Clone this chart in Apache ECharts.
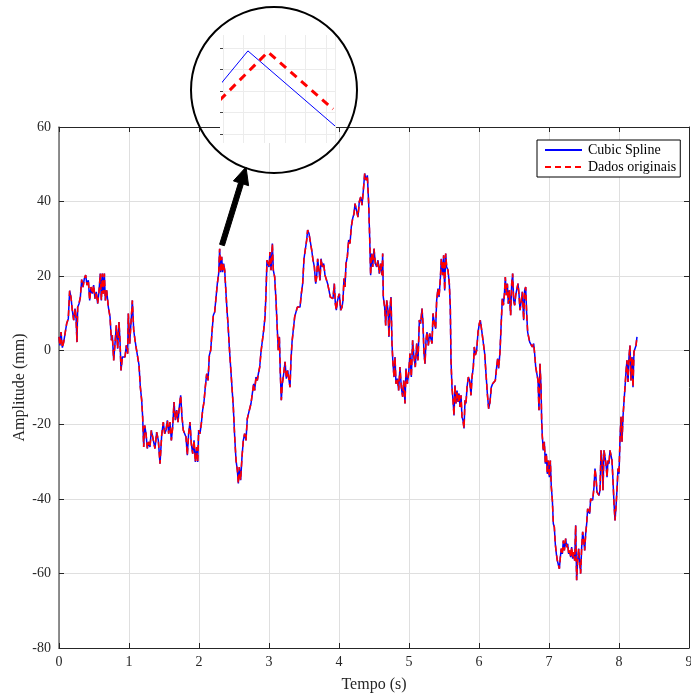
<!DOCTYPE html>
<html>
<head>
<meta charset="utf-8">
<script src="https://cdn.jsdelivr.net/npm/echarts@6/dist/echarts.min.js"></script>
<style>
html,body{margin:0;padding:0;background:#fff;}
#chart{width:691px;height:694px;}
</style>
</head>
<body>
<div id="chart"></div>
<script>
// ---- Data (tempo em s, amplitude em mm) ----
const legendNames = ['Cubic Spline', 'Dados originais'];
const xTicks = [0, 1, 2, 3, 4, 5, 6, 7, 8, 9];
const yTicks = [-80, -60, -40, -20, 0, 20, 40, 60];

const amostras = [
 [0,3.6],[0.014,1.3],[0.029,4.9],[0.048,0.7],[0.067,2.2],[0.086,2.7],[0.110,7.2],[0.133,8.5],[0.152,16],[0.171,14.3],
 [0.190,10.8],[0.210,8.1],[0.229,11.2],[0.243,9],[0.257,2.2],[0.267,11.6],[0.286,12.5],[0.305,14.3],[0.324,19],[0.343,17],
 [0.362,19.3],[0.381,20.2],[0.400,17.5],[0.419,18.8],[0.438,13.4],[0.457,17],[0.476,15.2],[0.495,17.5],[0.514,13.9],[0.533,15.7],
 [0.552,12.5],[0.571,15.7],[0.590,20.6],[0.605,13.4],[0.619,20.6],[0.633,15.2],[0.648,20.6],[0.662,13.4],[0.681,16.1],[0.705,11.6],
 [0.729,9],[0.748,2.7],[0.762,4],[0.781,-2.7],[0.800,1.8],[0.819,6.7],[0.838,0.4],[0.857,7.6],[0.871,2.7],[0.886,-5.4],
 [0.905,-1.8],[0.924,-2.2],[0.943,-1.8],[0.962,1.3],[0.981,-0.9],[0.990,9.9],[1.010,1.8],[1.029,7.6],[1.048,13.4],[1.067,5.4],
 [1.086,2.7],[1.105,0.4],[1.124,0.9],[1.143,-4],[1.162,-9.9],[1.181,-13.4],[1.195,-17.9],[1.210,-26],[1.224,-20.2],[1.243,-22.4],
 [1.262,-26.4],[1.281,-24.6],[1.300,-26],[1.319,-21.5],
 [1.348,-24.2],[1.371,-26.4],[1.395,-22],[1.419,-24.2],[1.443,-30.5],[1.467,-22.8],[1.490,-19.3],[1.510,-22.4],[1.529,-21.5],[1.548,-18.8],
 [1.567,-22.4],[1.586,-19.3],[1.605,-24.2],[1.624,-20.6],[1.643,-13.9],[1.662,-18.8],[1.681,-16.1],[1.700,-19.3],[1.719,-15.2],[1.738,-12.1],
 [1.757,-17.9],[1.776,-21.5],[1.795,-21],[1.814,-23.3],[1.833,-28.2],[1.852,-22.4],[1.871,-19.3],[1.890,-25.1],[1.910,-27.8],[1.929,-24.2],
 [1.948,-30],[1.967,-26],[1.981,-30],[1.995,-21.5],[2.014,-22.4],[2.033,-19.7],[2.052,-16.1],[2.071,-13.9],[2.090,-9.9],[2.110,-6.3],
 [2.129,-8.1],[2.148,-1.3],[2.167,0],[2.186,4.9],[2.205,9.4],[2.224,10.3],[2.243,9.9],[2.262,17.9],[2.281,20.6],[2.295,27.3],
 [2.310,21],[2.324,25.1],[2.338,21],[2.352,23.3],[2.367,21.5],[2.386,15.2],[2.400,10.8],[2.414,7.2],[2.433,0.9],[2.452,-4.5],
 [2.471,-9.9],[2.490,-15.2],[2.510,-23.3],[2.529,-29.6],[2.548,-32.3],[2.562,-35.8],[2.576,-31.4],[2.595,-34.9],[2.614,-28.7],[2.633,-24.2],
 [2.652,-22.4],[2.671,-24.2],[2.690,-18.4],[2.719,-16.1],
 [2.743,-14.3],[2.762,-11.6],[2.781,-9],[2.795,-10.8],[2.814,-7.2],[2.833,-8.1],[2.848,-6.3],[2.867,-4.5],[2.886,-0.4],[2.905,-0.9],
 [2.924,5.4],[2.943,9],[2.957,15.2],[2.971,24.2],[2.986,24.6],[3.000,22.4],[3.014,26.4],[3.029,21.5],[3.048,28.7],[3.062,21.5],
 [3.081,19.7],[3.100,13.4],[3.119,5.4],[3.133,0],[3.148,3.6],[3.162,-6.3],[3.176,-13.4],[3.190,-9],[3.210,-6.3],[3.229,-3.1],
 [3.248,-7.6],[3.267,-5.4],[3.286,-8.1],[3.300,-9.9],[3.314,-2.7],[3.329,2.2],[3.348,2.7],[3.367,9],[3.386,9.4],[3.405,11.6],
 [3.424,11.2],[3.443,11.6],[3.462,15.2],[3.481,17.9],[3.500,24.6],[3.519,24.2],[3.538,29.6],[3.552,32.3],[3.571,31.4],[3.590,31.8],
 [3.610,26.9],[3.629,24.2],[3.648,22.4],[3.667,17.9],[3.681,19.7],[3.695,24.6],[3.710,24.2],[3.729,18.8],[3.743,24.6],[3.762,22.4],
 [3.781,23.3],[3.800,20.2],[3.819,20.6],[3.838,17.9],[3.857,16.1],[3.876,14.3],[3.895,14.8],[3.914,13.9],[3.933,17.9],[3.948,12.5],
 [3.962,10.8],[3.976,13],[3.990,14.3],[4.005,15.2],[4.024,10.8],[4.043,11.6],[4.057,13.4],[4.071,19.3],[4.086,17],[4.100,23.3],
 [4.119,25.1],[4.138,29.6],[4.157,28.7],[4.176,33.2],[4.195,35.4],[4.214,36.7],[4.229,39.4],
 [4.252,39.4],[4.271,35.8],[4.290,39.9],[4.310,41.2],[4.329,39],[4.348,43],[4.367,47.5],[4.386,45.7],[4.405,47],[4.424,39.4],
 [4.438,30.5],[4.452,20.2],[4.467,26],[4.481,22.4],[4.500,27.3],[4.519,23.3],[4.538,22.4],[4.557,24.2],[4.576,20.6],[4.595,23.3],
 [4.614,20.2],[4.624,26],[4.633,14.3],[4.652,11.6],[4.667,6.7],[4.681,13.4],[4.700,10.8],[4.714,3.6],[4.729,11.6],[4.743,14.3],
 [4.757,1.8],[4.771,-3.6],[4.786,-7.2],[4.800,-1.8],[4.814,-9],[4.833,-7.6],[4.852,-10.8],[4.871,-4.5],[4.890,-9.9],[4.910,-12.5],
 [4.924,-8.1],[4.943,-14.3],[4.957,-4.9],[4.976,-9],[4.995,-6.3],[5.014,-0.9],[5.033,-7.2],[5.052,2.7],[5.071,-1.8],[5.090,-4.5],
 [5.110,1.8],[5.129,-2.7],[5.148,8.1],[5.167,7.2],[5.186,11.2],[5.200,7.2],[5.214,-0.9],[5.229,-3.6],[5.243,2.7],[5.257,4.9],
 [5.276,1.3],[5.295,4.5],[5.314,4.9],[5.329,1.8],[5.343,9.9],[5.362,7.2],[5.381,5.8],[5.395,13.4],[5.414,16.6],[5.429,14.3],
 [5.448,19.3],[5.462,24.6],[5.481,20.2],[5.495,25.5],[5.510,16.1],[5.524,26],[5.538,22.4],[5.557,21.5],[5.576,17.9],
 [5.590,11.6],[5.600,-2.7],[5.614,-9.9],[5.629,-13.4],[5.643,-17.5],[5.657,-9.4],[5.671,-14.3],[5.686,-10.8],[5.700,-13.9],[5.714,-11.6],
 [5.729,-15.2],[5.743,-12.1],[5.757,-17.9],[5.771,-18.8],[5.786,-21],[5.800,-13.4],[5.814,-14.3],[5.829,-9.9],[5.848,-7.2],[5.867,-8.1],
 [5.886,-12.1],[5.900,-7.2],[5.919,-4.5],[5.933,0.9],[5.948,-1.3],[5.967,0],[5.986,4.9],[6.005,7.2],[6.019,8.1],[6.033,8.5],
 [6.048,4],[6.062,4],[6.081,-0.9],[6.100,-6.3],[6.119,-11.6],[6.138,-15.7],[6.157,-13.9],[6.176,-9.9],[6.195,-9],[6.214,-9.4],
 [6.233,-8.1],[6.252,-4.5],[6.267,-2.2],[6.281,-4.9],[6.300,-0.4],[6.314,5.8],[6.333,13.9],[6.348,12.1],[6.362,14.8],[6.376,19.7],
 [6.390,14.8],[6.405,17.9],[6.419,12.5],[6.433,16.1],[6.452,9.4],[6.467,17.9],[6.481,20.6],[6.495,13.4],[6.510,12.1],[6.524,14.8],
 [6.538,15.2],[6.557,17.9],[6.571,15.2],[6.586,10.8],[6.605,13.4],[6.619,15.7],[6.638,8.1],[6.652,16.1],[6.667,17],[6.681,9.9],
 [6.695,4.9],[6.710,5.4],[6.724,2.2],[6.743,1.8],[6.762,0.9],[6.781,1.8],[6.795,-0.9],[6.810,-4.5],[6.829,-4.5],[6.843,-8.1],
 [6.857,-16.1],[6.871,-3.6],[6.886,-9.9],[6.895,-18.8],[6.905,-23.3],
 [6.919,-26.9],[6.933,-24.6],[6.948,-30.5],[6.962,-27.8],[6.976,-33.2],[6.990,-29.6],[7.005,-34.1],[7.019,-29.6],[7.033,-36.7],[7.048,-40.3],
 [7.062,-46.6],[7.076,-47.5],[7.090,-52],[7.105,-54.7],[7.119,-56.5],[7.133,-56.9],[7.148,-58.7],[7.162,-55.6],[7.176,-53.3],[7.190,-54.7],
 [7.205,-51.1],[7.219,-53.8],[7.238,-50.6],[7.252,-52.9],[7.267,-52],[7.281,-54.7],[7.295,-53.8],[7.310,-55.6],[7.324,-52.9],[7.338,-56],
 [7.352,-54.2],[7.367,-56.5],[7.381,-47],[7.395,-61.8],[7.410,-56.5],[7.424,-53.3],[7.438,-56.9],[7.452,-60],[7.467,-52.9],[7.481,-48.8],
 [7.495,-51.1],[7.510,-53.8],[7.524,-49.3],[7.538,-46.6],[7.552,-42.6],[7.567,-42.1],[7.581,-43.9],[7.595,-39.9],[7.610,-39.4],[7.624,-40.3],
 [7.643,-36.7],[7.657,-31.8],[7.671,-34.1],[7.686,-38.1],[7.700,-38.5],[7.714,-39],[7.729,-37.6],[7.743,-26.9],[7.757,-29.6],[7.771,-37.6],
 [7.786,-26.9],[7.800,-27.3],[7.814,-30.5],[7.829,-34.1],[7.843,-29.6],[7.857,-30.5],[7.871,-26.9],[7.886,-26.9],[7.900,-29.6],[7.914,-34.9],
 [7.929,-41.2],[7.943,-45.7],[7.957,-42.1],[7.971,-37.6],[7.986,-31.8],[8.000,-33.2],[8.014,-24.2],[8.029,-17.9],[8.043,-24.6],[8.057,-17.9],
 [8.071,-13.9],[8.086,-9.9],[8.100,-5.8],[8.114,-2.7],[8.129,-8.5],[8.143,-1.8],[8.157,1.3],[8.171,-8.1],[8.186,-1.8],[8.200,-9.9],
 [8.214,-0.4],[8.229,0],[8.243,1.3],[8.257,3.6]
];

// Inset (detalhe ampliado do pico)
const insetSpline = [[-0.15,2.28],[1.21,3.86],[5.44,0.37]];
const insetOriginal = [[-0.15,1.58],[2.18,3.81],[5.34,1.16]];

const FONT = "'Liberation Serif', 'Times New Roman', serif";

const chart = echarts.init(document.getElementById('chart'), null, {renderer: 'canvas'});

const arrowPts = [[219.6,244.3],[238.6,182.6],[233.4,180.9],[246,167],[248.6,185.7],[243.4,184],[224.4,245.7]];

const option = {
  animation: false,
  backgroundColor: '#fff',
  grid: [
    {left: 59, top: 127, width: 630, height: 521, outerBoundsMode: 'none', containLabel: false},
    {left: 220, top: 48, width: 115, height: 86, outerBoundsMode: 'none', containLabel: false, z: 10},
    {left: 223, top: 35, width: 112, height: 108, outerBoundsMode: 'none', containLabel: false, z: 10}
  ],
  legend: {
    data: legendNames,
    orient: 'vertical',
    left: 537, top: 140,
    padding: [3, 4, 3, 7],
    itemGap: 3,
    itemWidth: 37, itemHeight: 14,
    borderColor: '#000', borderWidth: 1, backgroundColor: '#fff',
    itemStyle: {opacity: 0, borderWidth: 0},
    textStyle: {fontFamily: FONT, fontSize: 14, color: '#000', padding: [0,0,0,1]}
  },
  xAxis: [
    {
      type: 'value', gridIndex: 0, min: xTicks[0], max: xTicks[xTicks.length-1], interval: 1,
      name: 'Tempo (s)', nameLocation: 'middle', nameGap: 29, nameMoveOverlap: false,
      nameTextStyle: {fontFamily: FONT, fontSize: 16, color: '#262626'},
      axisLine: {show: true, onZero: false, lineStyle: {color: '#262626', width: 1}},
      axisTick: {show: true, inside: true, length: 5, lineStyle: {color: '#262626'}},
      axisLabel: {fontFamily: FONT, fontSize: 14, color: '#262626', margin: 7, showMinLabel: true, showMaxLabel: true},
      splitLine: {show: true, lineStyle: {color: '#dfdfdf', width: 1}}
    },
    {
      type: 'value', gridIndex: 0, position: 'top', min: 0, max: 9, interval: 1,
      axisLine: {show: true, onZero: false, lineStyle: {color: '#262626', width: 1}},
      axisTick: {show: true, inside: true, length: 5, lineStyle: {color: '#262626'}},
      axisLabel: {show: false}, splitLine: {show: false}
    },
    {
      type: 'value', gridIndex: 1, min: 0, max: 1, show: false
    },
    {
      type: 'value', gridIndex: 2, min: 0, max: 5.437, interval: 1, z: 11,
      axisLine: {show: false}, axisTick: {show: false}, axisLabel: {show: false},
      splitLine: {show: true, lineStyle: {color: '#ececec', width: 1}}
    }
  ],
  yAxis: [
    {
      type: 'value', gridIndex: 0, min: yTicks[0], max: yTicks[yTicks.length-1], interval: 20,
      name: 'Amplitude (mm)', nameLocation: 'middle', nameGap: 31, nameRotate: 90, nameMoveOverlap: false,
      nameTextStyle: {fontFamily: FONT, fontSize: 16, color: '#262626'},
      axisLine: {show: true, onZero: false, lineStyle: {color: '#6a6a6a', width: 1.5}},
      axisTick: {show: true, inside: true, length: 5, lineStyle: {color: '#262626'}},
      axisLabel: {fontFamily: FONT, fontSize: 14, color: '#262626', margin: 8, showMinLabel: true, showMaxLabel: true},
      splitLine: {show: true, lineStyle: {color: '#dfdfdf', width: 1}}
    },
    {
      type: 'value', gridIndex: 0, position: 'right', min: -80, max: 60, interval: 20,
      axisLine: {show: true, onZero: false, lineStyle: {color: '#262626', width: 1}},
      axisTick: {show: true, inside: true, length: 5, lineStyle: {color: '#262626'}},
      axisLabel: {show: false}, splitLine: {show: false}
    },
    {
      type: 'value', gridIndex: 1, min: 0, max: 4, interval: 1, z: 11,
      axisLine: {show: false},
      axisTick: {show: true, inside: true, length: 3, lineStyle: {color: '#444'}},
      axisLabel: {show: false},
      splitLine: {show: true, lineStyle: {color: '#ececec', width: 1}}
    },
    {
      type: 'value', gridIndex: 2, min: -0.42, max: 4.6, show: false
    }
  ],
  graphic: [
    {type: 'rect', z: 5, shape: {x: 220, y: 35, width: 115, height: 108}, style: {fill: '#fff'}, silent: true},
    {type: 'circle', z: 50, shape: {cx: 274, cy: 90, r: 83}, style: {fill: null, stroke: '#000', lineWidth: 2}, silent: true},
    {type: 'polygon', z: 50, shape: {points: arrowPts}, style: {fill: '#000', stroke: '#000', lineWidth: 1}, silent: true}
  ],
  series: [
    {
      name: legendNames[0], type: 'line', xAxisIndex: 0, yAxisIndex: 0,
      data: amostras, showSymbol: false, symbol: 'none',
      lineStyle: {color: '#0000ff', width: 1.5}, itemStyle: {color: '#0000ff'}, z: 2
    },
    {
      name: legendNames[1], type: 'line', xAxisIndex: 0, yAxisIndex: 0,
      data: amostras, showSymbol: false, symbol: 'none',
      lineStyle: {color: '#ff0000', width: 1.6, type: [6, 4]}, itemStyle: {color: '#ff0000'}, z: 3
    },
    {
      type: 'line', xAxisIndex: 3, yAxisIndex: 3, data: insetSpline, symbol: 'none', clip: false,
      lineStyle: {color: '#0000ff', width: 1}, z: 20, silent: true
    },
    {
      type: 'line', xAxisIndex: 3, yAxisIndex: 3, data: insetOriginal, symbol: 'none', clip: false,
      lineStyle: {color: '#ff0000', width: 3, type: [8, 6]}, z: 21, silent: true
    }
  ]
};
chart.setOption(option);
</script>
</body>
</html>
